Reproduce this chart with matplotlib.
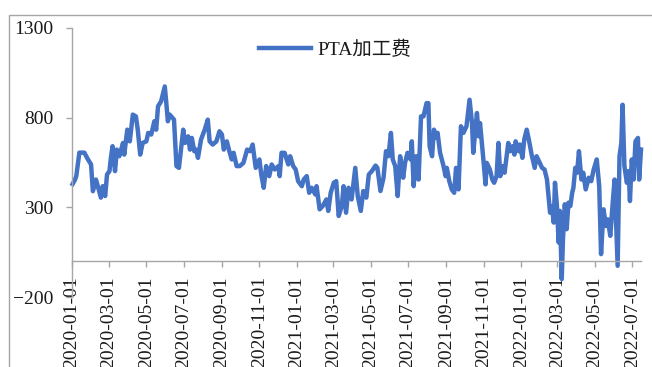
import matplotlib
matplotlib.use("Agg")
import matplotlib.pyplot as plt
import matplotlib.dates as mdates
from matplotlib.patches import Rectangle
import pandas as pd

series_name = "PTA加工费"

dates = [
    "2020-01-02", "2020-01-06", "2020-01-08", "2020-01-13", "2020-01-21", "2020-01-27",
    "2020-02-01", "2020-02-04", "2020-02-09", "2020-02-12", "2020-02-17", "2020-02-20",
    "2020-02-24", "2020-02-27", "2020-03-02", "2020-03-04", "2020-03-07", "2020-03-11",
    "2020-03-14", "2020-03-18", "2020-03-24", "2020-03-26", "2020-03-31", "2020-04-04",
    "2020-04-09", "2020-04-14", "2020-04-17", "2020-04-21", "2020-04-25", "2020-05-01",
    "2020-05-04", "2020-05-09", "2020-05-14", "2020-05-17", "2020-05-20", "2020-05-25",
    "2020-05-31", "2020-06-02", "2020-06-05", "2020-06-08", "2020-06-15", "2020-06-19",
    "2020-06-23", "2020-06-30", "2020-07-03", "2020-07-08", "2020-07-11", "2020-07-14",
    "2020-07-18", "2020-07-21", "2020-07-24", "2020-07-29", "2020-08-04", "2020-08-09",
    "2020-08-12", "2020-08-17", "2020-08-23", "2020-08-28", "2020-09-01", "2020-09-04",
    "2020-09-09", "2020-09-13", "2020-09-17", "2020-09-20", "2020-09-25", "2020-09-30",
    "2020-10-06", "2020-10-12", "2020-10-17", "2020-10-21", "2020-10-26", "2020-11-01",
    "2020-11-04", "2020-11-08", "2020-11-12", "2020-11-17", "2020-11-21", "2020-11-26",
    "2020-12-02", "2020-12-04", "2020-12-07", "2020-12-12", "2020-12-18", "2020-12-21",
    "2020-12-26", "2020-12-30", "2021-01-03", "2021-01-09", "2021-01-12", "2021-01-17",
    "2021-01-21", "2021-01-25", "2021-01-31", "2021-02-02", "2021-02-07", "2021-02-12",
    "2021-02-18", "2021-02-21", "2021-02-25", "2021-03-02", "2021-03-06", "2021-03-10",
    "2021-03-15", "2021-03-18", "2021-03-22", "2021-03-26", "2021-03-31", "2021-04-06",
    "2021-04-10", "2021-04-15", "2021-04-19", "2021-04-24", "2021-04-28", "2021-05-03",
    "2021-05-09", "2021-05-12", "2021-05-17", "2021-05-22", "2021-05-26", "2021-05-30",
    "2021-06-03", "2021-06-06", "2021-06-10", "2021-06-14", "2021-06-18", "2021-06-23",
    "2021-06-26", "2021-06-30", "2021-07-05", "2021-07-07", "2021-07-10", "2021-07-14",
    "2021-07-18", "2021-07-22", "2021-07-26", "2021-07-31", "2021-08-03", "2021-08-05",
    "2021-08-09", "2021-08-12", "2021-08-16", "2021-08-18", "2021-08-22", "2021-08-27",
    "2021-08-31", "2021-09-02", "2021-09-06", "2021-09-10", "2021-09-14", "2021-09-17",
    "2021-09-21", "2021-09-25", "2021-09-29", "2021-10-04", "2021-10-09", "2021-10-13",
    "2021-10-15", "2021-10-18", "2021-10-21", "2021-10-24", "2021-10-26", "2021-10-31",
    "2021-11-04", "2021-11-06", "2021-11-11", "2021-11-15", "2021-11-18", "2021-11-22",
    "2021-11-25", "2021-11-28", "2021-12-02", "2021-12-05", "2021-12-11", "2021-12-14",
    "2021-12-18", "2021-12-21", "2021-12-23", "2021-12-28", "2021-12-30", "2022-01-03",
    "2022-01-06", "2022-01-10", "2022-01-14", "2022-01-18", "2022-01-23", "2022-01-26",
    "2022-01-30", "2022-02-04", "2022-02-08", "2022-02-12", "2022-02-14", "2022-02-17",
    "2022-02-20", "2022-02-23", "2022-02-25", "2022-02-28", "2022-03-03", "2022-03-05",
    "2022-03-08", "2022-03-10", "2022-03-13", "2022-03-16", "2022-03-19", "2022-03-22",
    "2022-03-25", "2022-03-27", "2022-03-30", "2022-04-02", "2022-04-05", "2022-04-09",
    "2022-04-12", "2022-04-16", "2022-04-21", "2022-04-25", "2022-04-29", "2022-05-04",
    "2022-05-08", "2022-05-11", "2022-05-15", "2022-05-19", "2022-05-22", "2022-05-26",
    "2022-05-30", "2022-06-02", "2022-06-07", "2022-06-10", "2022-06-13", "2022-06-15",
    "2022-06-18", "2022-06-22", "2022-06-25", "2022-06-27", "2022-06-30", "2022-07-03",
    "2022-07-06", "2022-07-10", "2022-07-12", "2022-07-15",
]

values = [
    430, 455, 475, 605, 605, 567,
    539, 390, 455, 418, 354, 418,
    363, 483, 502, 567, 641, 502,
    622, 585, 659, 594, 733, 668,
    817, 807, 733, 594, 659, 668,
    715, 706, 780, 733, 863, 891,
    974, 900, 780, 817, 789, 530,
    520, 733, 659, 696, 622, 687,
    613, 622, 576, 678, 733, 789,
    668, 650, 668, 724, 706, 622,
    668, 613, 567, 604, 530, 530,
    548, 622, 613, 650, 520, 567,
    483, 409, 530, 474, 539, 511,
    530, 474, 604, 604, 539, 585,
    530, 511, 446, 418, 455, 474,
    381, 409, 372, 418, 289, 307,
    344, 280, 381, 437, 446, 252,
    307, 418, 270, 409, 344, 520,
    363, 280, 391, 354, 483, 502,
    533, 520, 391, 465, 613, 585,
    715, 567, 530, 363, 585, 465,
    548, 604, 567, 668, 418, 585,
    455, 807, 807, 881, 881, 641,
    585, 733, 687, 715, 604, 539,
    474, 520, 446, 400, 381, 520,
    400, 752, 715, 752, 900, 770,
    604, 715, 826, 696, 770, 585,
    428, 548, 511, 455, 437, 474,
    659, 474, 530, 493, 659, 613,
    641, 594, 668, 613, 650, 576,
    678, 733, 668, 594, 520, 585,
    557, 520, 511, 455, 381, 270,
    307, 215, 437, 317, 104, 280,
    -100, 122, 317, 178, 326, 307,
    381, 409, 520, 493, 613, 455,
    493, 400, 465, 446, 511, 567,
    418, 39, 289, 196, 233, 141,
    326, 455, -26, 585, 659, 872,
    530, 437, 502, 335, 567, 455,
    668, 687, 455, 622,
]

y_ticks = [-200, 300, 800, 1300]
x_start = "2020-01-01"
x_end = "2022-07-15"

W, H = 652, 367
fig = plt.figure(figsize=(W / 100, H / 100), dpi=100)
serif = ["Liberation Serif", "DejaVu Serif"]
legend_fonts = ["Liberation Serif", "Noto Sans CJK SC"]

# outer frame
fig.patches.append(Rectangle((9 / W, -0.1), 1.2, 1.1 - 15 / H, transform=fig.transFigure,
                             fill=False, edgecolor="#a6a6a6", lw=1.0, zorder=0))

ax = fig.add_axes([72 / W, 1 - 297 / H, (641 - 72) / W, (297 - 28) / H])
ax.patch.set_alpha(0)

x = pd.to_datetime(dates)
line_color = "#4472c4"
ax.plot(x, values, color=line_color, lw=3.2, solid_joinstyle="round", label=series_name,
        clip_on=False)

ax.set_ylim(-200, 1300)
ax.set_yticks(y_ticks)
ax.set_xlim(pd.Timestamp(x_start), pd.Timestamp(x_end))
ax.xaxis.set_major_locator(mdates.MonthLocator(bymonth=[1, 3, 5, 7, 9, 11]))
ax.xaxis.set_major_formatter(mdates.DateFormatter("%Y-%m-%d"))

for s in ["top", "right"]:
    ax.spines[s].set_visible(False)
ax.spines["bottom"].set_position(("data", 0))
for s in ["left", "bottom"]:
    ax.spines[s].set_color("#a6a6a6")
    ax.spines[s].set_linewidth(1.0)

fs = 14
ax.tick_params(axis="y", direction="out", length=4.3, width=1.0, color="#a6a6a6", pad=9.0,
               labelsize=fs, labelcolor="#1a1a1a")
ax.tick_params(axis="x", direction="out", length=4.3, width=1.0, color="#a6a6a6", pad=6.5,
               labelsize=fs, labelcolor="#1a1a1a")
for lab in ax.get_yticklabels():
    lab.set_fontfamily(serif)
for lab in ax.get_xticklabels():
    lab.set_fontfamily(serif)
    lab.set_rotation(90)
    lab.set_ha("center")
    lab.set_va("top")

leg = fig.legend(loc="center", bbox_to_anchor=(335 / W, 1 - 50 / H), frameon=False,
                 handlelength=2.7, handletextpad=0.3, borderpad=0, borderaxespad=0,
                 prop={"family": legend_fonts, "size": fs})
for t in leg.get_texts():
    t.set_color("#1a1a1a")

fig.savefig("out.png", dpi=100)
